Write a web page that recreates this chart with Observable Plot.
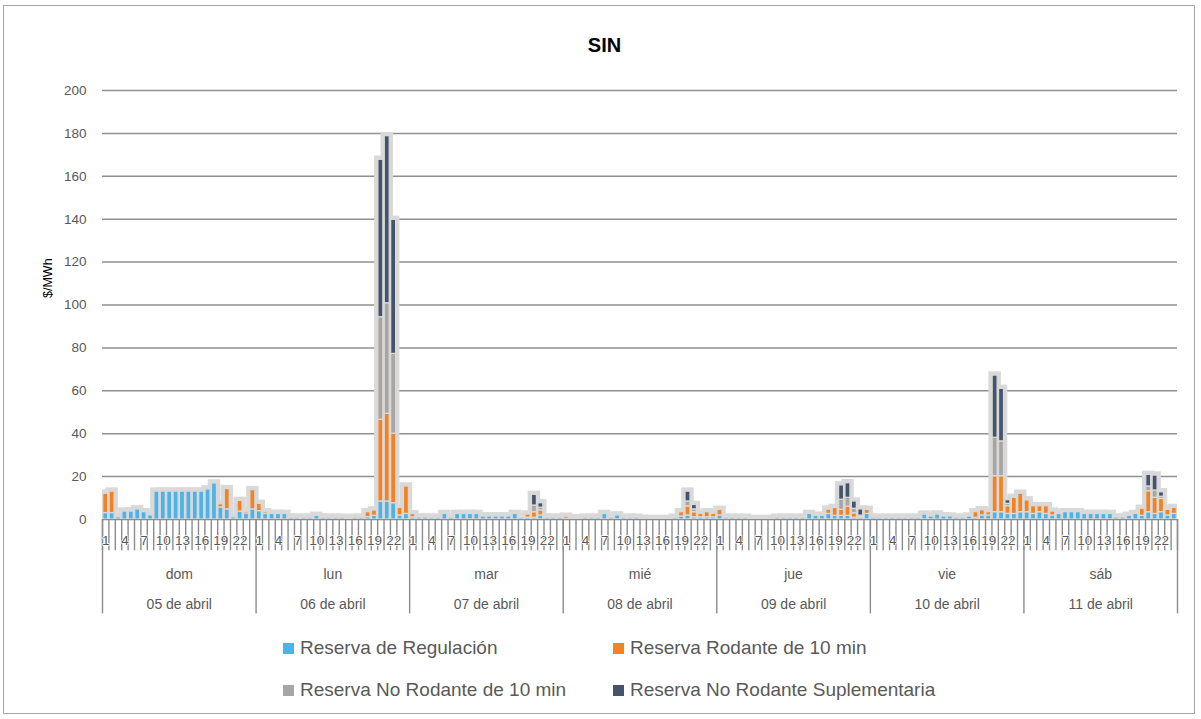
<!DOCTYPE html>
<html>
<head>
<meta charset="utf-8">
<script src="https://cdn.jsdelivr.net/npm/d3@7"></script>
<script src="https://cdn.jsdelivr.net/npm/@observablehq/plot@0.6"></script>
<style>
  body { margin: 0; background: #fff; font-family: "Liberation Sans", Arial, sans-serif; }
  #wrap { position: relative; width: 1201px; height: 719px; overflow: hidden; background: #fff; }
  #frame { position: absolute; left: 3px; top: 5px; width: 1192px; height: 709px; border: 1.5px solid #a6a6a6; pointer-events: none; box-sizing: border-box; }
  #title { height: 70px; box-sizing: border-box; padding-top: 33px; text-align: center; font-weight: bold; font-size: 20px; line-height: 24px; color: #000; padding-left: 8px; }
  #chart svg { display: block; }
  #legend { position: relative; height: 94px; color: #595959; font-size: 19px; }
  .item { position: absolute; display: flex; align-items: center; height: 22px; white-space: nowrap; }
  .sw { width: 11px; height: 11px; margin-right: 6px; }
</style>
</head>
<body>
<div id="wrap">
  <div id="title">SIN</div>
  <div id="chart"></div>
  <div id="legend"></div>
  <div id="frame"></div>
</div>
<script>
// ---- data ----
const days = ["dom", "lun", "mar", "mié", "jue", "vie", "sáb"];
const dates = ["05 de abril", "06 de abril", "07 de abril", "08 de abril", "09 de abril", "10 de abril", "11 de abril"];
const hourTicks = [1, 4, 7, 10, 13, 16, 19, 22];
const yTicks = [0, 20, 40, 60, 80, 100, 120, 140, 160, 180, 200];
const seriesNames = ["Reserva de Regulación", "Reserva Rodante de 10 min", "Reserva No Rodante de 10 min", "Reserva No Rodante Suplementaria"];
const seriesColors = ["#4db2e6", "#f5821f", "#a9a5a2", "#44546a"];

const regulacion = [
  3, 3, 1, 3.7, 3.7, 4.7, 3.4, 1.9, 13, 13, 13, 13, 13, 13, 13, 13, 14, 16.8, 5.6, 4.7, 1, 3.7, 2.8, 4.7,
  3.9, 2.6, 2.6, 2.6, 2.6, 0.8, 0.8, 0.8, 0.8, 1.7, 0.8, 0.8, 0.8, 0.8, 0.2, 0.8, 0.8, 1.1, 1.7, 8.4, 8.4, 7.6, 1.9, 2.6,
  1, 0.9, 0.9, 0.8, 0.8, 2.6, 0.8, 2.6, 2.6, 2.6, 2.6, 1.4, 1.4, 1.4, 1.4, 1.4, 2.6, 0.8, 0.8, 0.8, 1.9, 0.8, 0.8, 0.8,
  0.3, 0.3, 0.6, 0.8, 0.8, 0.8, 2.6, 0.8, 1.9, 0.8, 0.8, 0.8, 0.3, 0.2, 0.2, 0.2, 0.2, 0.8, 1.4, 1.9, 1, 1, 1, 1,
  1.9, 0.8, 0.8, 0.8, 0.8, 0.2, 0.2, 0.2, 0.2, 0.8, 0.8, 0.8, 0.8, 0.8, 2.6, 1.7, 1.7, 2.6, 1.7, 1.7, 1.7, 0.8, 0.8, 2.6,
  0.8, 0.8, 0.8, 0.8, 0.8, 0.8, 0.8, 0.8, 2.3, 1.4, 2.3, 1.4, 1.4, 0.8, 0.8, 1.4, 0.8, 1.9, 1.9, 3.4, 3.4, 2.6, 2.6, 3.4,
  3.4, 2.6, 3.4, 2.6, 1.9, 2.6, 3.4, 3.4, 3.4, 2.6, 2.6, 2.6, 2.6, 2.6, 0.9, 0.9, 1.7, 2.6, 1.7, 3.4, 2.6, 3.4, 1.9, 2.6
];
const rodante10 = [
  9, 10, 0, 0, 0, 0, 0, 0, 0, 0, 0, 0, 0, 0, 0, 0, 0, 0, 1.5, 9.5, 0, 5, 0.8, 9,
  3.4, 0.8, 0, 0, 0, 0, 0, 0, 0, 0, 0, 0, 0, 0, 0, 0, 0, 2.3, 2.5, 38.1, 40.9, 32.4, 3.5, 12.8,
  1.5, 0, 0, 0, 0, 0, 0, 0, 0, 0, 0, 0, 0, 0, 0, 0, 0, 0, 1.5, 2.6, 2.3, 0, 0, 0,
  1, 0, 0, 0, 0, 0, 0, 0, 0, 0, 0, 0, 0, 0, 0, 0, 0, 0, 2, 4.2, 2.4, 1.6, 2.4, 1.6,
  2.6, 0, 0, 0, 0, 0, 0, 0, 0, 0, 0, 0, 0, 0, 0, 0, 0, 2, 3.7, 2.8, 4.3, 2.1, 0.5, 1.9,
  0, 0, 0, 0, 0, 0, 0, 0, 0, 0, 0, 0, 0, 0, 0, 0, 2.6, 2.4, 1.5, 16.8, 16.8, 3.6, 7.5, 8.6,
  5.5, 3.6, 2.8, 3.6, 1.8, 0, 0, 0, 0, 0, 0, 0, 0, 0, 0, 0, 0, 0, 3.3, 9.8, 7.5, 6.2, 2.6, 2.8
];
const noRodante10 = [
  0, 0, 0, 0, 0, 0, 0, 0, 0, 0, 0, 0, 0, 0, 0, 0, 0, 0, 0, 0, 0, 0, 0, 0,
  0, 0, 0, 0, 0, 0, 0, 0, 0, 0, 0, 0, 0, 0, 0, 0, 0, 0, 0, 47.8, 51.5, 37.2, 0, 0,
  0, 0, 0, 0, 0, 0, 0, 0, 0, 0, 0, 0, 0, 0, 0, 0, 0, 0, 0, 3.1, 1.3, 0, 0, 0,
  0, 0, 0, 0, 0, 0, 0, 0, 0, 0, 0, 0, 0, 0, 0, 0, 0, 0, 0, 2.3, 1.3, 0, 0, 0,
  0, 0, 0, 0, 0, 0, 0, 0, 0, 0, 0, 0, 0, 0, 0, 0, 0, 0, 0, 4.7, 4.1, 2.1, 0.5, 0,
  0, 0, 0, 0, 0, 0, 0, 0, 0, 0, 0, 0, 0, 0, 0, 0, 0, 0, 0, 17.9, 16.2, 1.1, 0, 0,
  0, 0, 0, 0, 0, 0, 0, 0, 0, 0, 0, 0, 0, 0, 0, 0, 0, 0, 0, 2.2, 3.4, 1, 0, 0
];
const noRodanteSupl = [
  0, 0, 0, 0, 0, 0, 0, 0, 0, 0, 0, 0, 0, 0, 0, 0, 0, 0, 0, 0, 0, 0, 0, 0,
  0, 0, 0, 0, 0, 0, 0, 0, 0, 0, 0, 0, 0, 0, 0, 0, 0, 0, 0, 73.4, 77.9, 62.5, 0, 0,
  0, 0, 0, 0, 0, 0, 0, 0, 0, 0, 0, 0, 0, 0, 0, 0, 0, 0, 0, 5, 2.1, 0, 0, 0,
  0, 0, 0, 0, 0, 0, 0, 0, 0, 0, 0, 0, 0, 0, 0, 0, 0, 0, 0, 4.6, 2.1, 0, 0, 0,
  0, 0, 0, 0, 0, 0, 0, 0, 0, 0, 0, 0, 0, 0, 0, 0, 0, 0, 0, 6.7, 6.8, 3.4, 2.9, 0,
  0, 0, 0, 0, 0, 0, 0, 0, 0, 0, 0, 0, 0, 0, 0, 0, 0, 0, 0, 29, 24.5, 1.7, 0, 0,
  0, 0, 0, 0, 0, 0, 0, 0, 0, 0, 0, 0, 0, 0, 0, 0, 0, 0, 0, 5.4, 7, 2.1, 0, 0
];

// ---- build tables ----
const seriesValues = [regulacion, rodante10, noRodante10, noRodanteSupl];
const nBars = days.length * 24;
const rows = [];
seriesValues.forEach((vals, s) => {
  vals.forEach((v, i) => rows.push({i, series: seriesNames[s], value: v}));
});
const segs = rows.filter(d => d.value > 0);
const totals = d3.range(nBars).map(i => ({i, total: d3.sum(seriesValues, vals => vals[i])})).filter(d => d.total > 0);
const hourLabels = [];
days.forEach((d, k) => hourTicks.forEach(h => hourLabels.push({i: k * 24 + h - 1, hour: h})));
const boundaries = d3.range(nBars + 1);
const dayBounds = d3.range(0, nBars + 1, 24);
const dayRows = days.map((d, k) => ({k, day: d, date: dates[k]}));

const axisColor = "#8c8c8c";
const textColor = "#595959";

const chart = Plot.plot({
  width: 1201,
  height: 555,
  marginTop: 20,
  marginBottom: 106,
  marginLeft: 102,
  marginRight: 24,
  style: {fontFamily: "Liberation Sans, Arial, sans-serif", background: "white", color: textColor, overflow: "visible"},
  x: {domain: [0, nBars], axis: null},
  y: {domain: [0, 200]},
  color: {domain: seriesNames, range: seriesColors},
  marks: [
    Plot.ruleY(yTicks.filter(t => t > 0), {stroke: "#909090", strokeWidth: 1.5}),
    Plot.axisY(yTicks, {tickSize: 0, tickPadding: 16, fontSize: 13.5, fill: textColor, label: null}),
    Plot.text(["$/MWh"], {frameAnchor: "left", text: d => d, rotate: -90, dx: -55, dy: -7, fontSize: 12.5, fill: "#000"}),
    // category axis (drawn under the bars)
    Plot.ruleX(boundaries, {x: d => d, y1: 0, y2: -14.6, stroke: axisColor, strokeWidth: 1.4}),
    Plot.ruleX(dayBounds, {x: d => d, y1: 0, y2: -44, stroke: axisColor, strokeWidth: 1.4}),
    Plot.ruleY([0], {stroke: axisColor, strokeWidth: 1.6}),
    // glow behind bars
    Plot.rectY(totals, {x1: d => d.i, x2: d => d.i + 1, y: "total", fill: "#d9d9d9", stroke: "#d9d9d9", strokeWidth: 7.5, insetLeft: 0.7, insetRight: 0.7, clip: true}),
    // stacked segments
    Plot.rectY(segs, {x1: d => d.i, x2: d => d.i + 1, y: "value", fill: "series", stroke: "#d9d9d9", strokeWidth: 1.3, insetLeft: 0.7, insetRight: 0.7, clip: true}),
    Plot.text(hourLabels, {x: d => d.i + 0.5, y: 0, dy: 21, text: d => String(d.hour), fontSize: 13.5, fill: textColor, stroke: "white", strokeWidth: 1.5}),
    Plot.text(dayRows, {x: d => d.k * 24 + 12, y: 0, dy: 55, text: "day", fontSize: 14, fill: textColor}),
    Plot.text(dayRows, {x: d => d.k * 24 + 12, y: 0, dy: 85, text: "date", fontSize: 14, fill: textColor})
  ]
});
document.getElementById("chart").appendChild(chart);

// ---- legend ----
const legend = document.getElementById("legend");
const legendPos = [[283, 12], [613, 12], [283, 54], [613, 54]];
seriesNames.forEach((name, s) => {
  const it = document.createElement("div");
  it.className = "item";
  it.style.left = legendPos[s][0] + "px";
  it.style.top = legendPos[s][1] + "px";
  const sw = document.createElement("span");
  sw.className = "sw";
  sw.style.background = seriesColors[s];
  const tx = document.createElement("span");
  tx.textContent = name;
  it.appendChild(sw);
  it.appendChild(tx);
  legend.appendChild(it);
});
</script>
</body>
</html>
